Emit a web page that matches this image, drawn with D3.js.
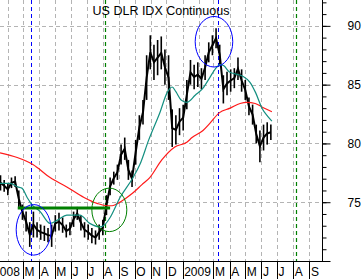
<!DOCTYPE html>
<html>
<head>
<meta charset="utf-8">
<script src="https://cdn.jsdelivr.net/npm/d3@7"></script>
<style>
body { margin: 0; background: #fff; }
svg { display: block; font-family: "Liberation Sans", Arial, sans-serif; }
</style>
</head>
<body>
<div id="chart_area"></div>
<script>
// weekly bars of the dollar index, first week ending 2008-01-18
var firstWeek = "2008-01-18";
var highs = [77.3,76.9,76.6,77.1,77.2,76.0,74.8,74.2,73.3,74.2,
             73.3,73.1,73.0,72.8,73.1,73.9,74.1,73.7,73.1,73.3,
             74.2,74.6,73.9,73.3,73.1,72.8,72.6,73.1,73.5,75.6,
             77.1,77.6,78.2,79.9,80.5,78.6,77.7,80.3,82.4,83.7,
             87.5,89.2,88.4,88.8,89.1,88.0,87.5,82.9,82.4,83.0,
             83.3,85.4,87.1,86.7,86.9,86.4,87.5,88.6,89.2,89.8,
             88.4,85.8,86.1,86.3,86.4,87.3,86.3,85.4,83.9,83.3,
             81.6,81.1,81.6,81.8,81.6];
var lows = [76.0,75.9,75.6,76.2,76.3,74.6,73.5,72.5,71.2,72.0,
            72.0,71.8,71.7,71.6,71.2,72.5,72.6,72.4,72.0,72.2,
            72.9,73.5,72.6,72.0,71.8,71.5,71.4,71.8,72.2,73.9,
            75.6,76.5,76.9,78.2,78.6,76.9,76.3,78.2,80.3,81.6,
            83.7,86.3,85.4,85.8,86.3,85.0,83.7,79.7,79.9,80.7,
            81.1,82.9,85.0,84.6,84.8,84.6,85.4,86.9,87.5,88.1,
            86.7,83.4,84.1,84.4,84.7,85.4,84.4,83.7,82.4,81.6,
            80.0,78.4,79.4,79.9,80.3];

// moving averages
var ma50Dates = ["2008-01-17","2008-02-05","2008-02-20","2008-02-28","2008-03-09","2008-03-18","2008-04-03","2008-04-22","2008-05-07","2008-05-24",
                 "2008-06-18","2008-07-07","2008-07-27","2008-08-05","2008-08-15","2008-09-03","2008-09-28","2008-10-11","2008-10-28","2008-11-19",
                 "2008-12-02","2008-12-12","2008-12-19","2008-12-29","2009-01-09","2009-01-25","2009-02-09","2009-02-22","2009-03-04","2009-03-14",
                 "2009-03-21","2009-03-31","2009-04-13","2009-04-27","2009-05-10","2009-05-21","2009-06-02","2009-06-13","2009-06-21"];
var ma50Values = [76.6,76.6,76.3,76.2,75.4,74.8,74.2,73.2,73.5,73.9,
                  73.9,73.2,72.9,73.1,73.7,75.4,77.1,78.2,80.3,82.7,
                  84.3,84.8,84.4,83.7,83.5,84.1,84.7,85.6,86.3,86.7,
                  86.6,86.1,85.9,85.7,85.2,84.3,83.0,82.3,81.9];
var ma200Dates = ["2008-01-17","2008-02-19","2008-03-20","2008-04-22","2008-05-24","2008-06-26","2008-07-21","2008-08-09","2008-08-19","2008-08-30",
                  "2008-09-13","2008-09-28","2008-10-15","2008-10-30","2008-11-22","2008-12-17","2009-01-09","2009-01-19","2009-02-09","2009-02-22",
                  "2009-03-12","2009-04-02","2009-04-21","2009-05-04","2009-05-20","2009-06-02","2009-06-21"];
var ma200Values = [79.2,78.8,78.2,77.1,76.3,75.4,74.9,74.7,74.7,74.9,
                   75.3,75.8,76.5,77.1,78.6,79.7,80.1,80.5,81.1,81.7,
                   82.6,83.0,83.4,83.5,83.4,83.1,82.7];

// annotations
var blueLines = ["2008-03-17", "2009-03-09"];
var greenLines = ["2008-08-05", "2009-08-07"];
var supportLine = {from: "2008-02-20", to: "2008-08-15", value: 74.5};
var ovals = [
    {from: "2008-02-17", to: "2008-04-24", lo: 70.5, hi: 74.8, color: "#0000ff"},
    {from: "2008-07-11", to: "2008-09-16", lo: 72.5, hi: 76.2, color: "#008000"},
    {from: "2009-01-25", to: "2009-04-07", lo: 86.5, hi: 90.8, color: "#0000ff"}
];

var yMajor = [70, 75, 80, 85, 90];
var title = "US DLR IDX Continuous";
var monthLetters = ["J","F","M","A","M","J","J","A","S","O","N","D"];

var parse = d3.timeParse("%Y-%m-%d");
var W = 364, H = 279;
var plotW = 322, plotH = 261;

var svg = d3.select("#chart_area").append("svg").attr("width", W).attr("height", H);

var x = d3.scaleTime().domain([parse("2008-01-17"), parse("2009-09-25")]).range([0, plotW]);
var y = d3.scaleLinear().domain([70, 92.2]).range([plotH, 0]);

var months = d3.timeMonth.range(parse("2008-02-01"), parse("2009-09-26"));

// grid
svg.append("g").selectAll("line").data(months).join("line")
    .attr("x1", d=>Math.round(x(d)) + 0.5).attr("x2", d=>Math.round(x(d)) + 0.5)
    .attr("y1", 0).attr("y2", plotH)
    .attr("stroke", "#b4b4b4").attr("stroke-dasharray", "4,3");
svg.append("g").selectAll("line").data(yMajor.slice(1)).join("line")
    .attr("x1", 0).attr("x2", plotW)
    .attr("y1", d=>Math.round(y(d)) + 0.5).attr("y2", d=>Math.round(y(d)) + 0.5)
    .attr("stroke", "#b4b4b4").attr("stroke-dasharray", "4,3");

// vertical markers
svg.append("g").selectAll("line").data(blueLines.map(parse)).join("line")
    .attr("x1", d=>Math.round(x(d)) + 0.5).attr("x2", d=>Math.round(x(d)) + 0.5).attr("y1", 0).attr("y2", plotH)
    .attr("stroke", "#0000ff").attr("stroke-width", 1).attr("stroke-dasharray", "4,3");
svg.append("g").selectAll("line").data(greenLines.map(parse)).join("line")
    .attr("x1", d=>Math.round(x(d)) + 0.5).attr("x2", d=>Math.round(x(d)) + 0.5).attr("y1", 0).attr("y2", plotH)
    .attr("stroke", "#008000").attr("stroke-width", 1.2).attr("stroke-dasharray", "4,3");

// price: weekly high-low bars joined by a mid line
var bars = highs.map((h, i)=>({date: d3.timeDay.offset(parse(firstWeek), 7 * i), high: h, low: lows[i]}));
var mid = d3.line().x(d=>x(d.date)).y(d=>y((d.high + d.low) / 2));
svg.append("path").datum(bars).attr("d", mid)
    .attr("fill", "none").attr("stroke", "#000").attr("stroke-width", 2);
svg.append("g").selectAll("line").data(bars).join("line")
    .attr("x1", d=>x(d.date)).attr("x2", d=>x(d.date))
    .attr("y1", d=>y(d.high)).attr("y2", d=>y(d.low))
    .attr("stroke", "#000").attr("stroke-width", 1.6);

// moving averages
var line = d3.line().x(d=>x(d[0])).y(d=>y(d[1])).curve(d3.curveMonotoneX);
svg.append("path").datum(ma200Dates.map((d, i)=>[parse(d), ma200Values[i]])).attr("d", line)
    .attr("fill", "none").attr("stroke", "#ff1a1a").attr("stroke-width", 1.2);
svg.append("path").datum(ma50Dates.map((d, i)=>[parse(d), ma50Values[i]])).attr("d", line)
    .attr("fill", "none").attr("stroke", "#138f80").attr("stroke-width", 1.2);

// support line
svg.append("line")
    .attr("x1", x(parse(supportLine.from))).attr("x2", x(parse(supportLine.to)))
    .attr("y1", y(supportLine.value)).attr("y2", y(supportLine.value))
    .attr("stroke", "#008000").attr("stroke-width", 3);

// ovals
svg.append("g").selectAll("ellipse").data(ovals).join("ellipse")
    .attr("cx", d=>(x(parse(d.from)) + x(parse(d.to))) / 2)
    .attr("cy", d=>(y(d.lo) + y(d.hi)) / 2)
    .attr("rx", d=>(x(parse(d.to)) - x(parse(d.from))) / 2)
    .attr("ry", d=>(y(d.lo) - y(d.hi)) / 2)
    .attr("fill", "none").attr("stroke", d=>d.color).attr("stroke-width", 1);

// right axis: minor then major ticks
svg.append("g").attr("transform", `translate(${plotW + 0.5},0)`)
    .call(d3.axisRight(y).tickValues(d3.range(70, 93)).tickSize(4).tickFormat(""))
    .call(g=>g.select(".domain").remove());
var yAxis = svg.append("g").attr("transform", `translate(${plotW + 0.5},0)`)
    .call(d3.axisRight(y).tickValues(yMajor).tickSize(8).tickPadding(17).tickSizeOuter(0));
yAxis.selectAll("text").attr("font-size", 12).attr("font-family", "Liberation Sans, Arial, sans-serif").attr("fill", "#000");
yAxis.select(".domain").attr("d", `M0,0V${plotH}`);
yAxis.selectAll(".tick").filter(d=>d == 70).select("text").remove();

// bottom label row
svg.append("line").attr("x1", 0).attr("x2", plotW + 1).attr("y1", plotH + 0.5).attr("y2", plotH + 0.5).attr("stroke", "#000");
svg.append("g").selectAll("line").data(months.filter(d=>d.getMonth() != 1)).join("line")
    .attr("x1", d=>Math.round(x(d)) + 0.5).attr("x2", d=>Math.round(x(d)) + 0.5)
    .attr("y1", plotH).attr("y2", H)
    .attr("stroke", "#000");
var labelMonths = [parse("2008-01-01")].concat(months.filter(d=>d.getMonth() != 1));
svg.append("g").selectAll("text").data(labelMonths).join("text")
    .attr("x", d=>x(d) + 1.5).attr("y", 276)
    .attr("font-size", 12).attr("fill", "#000")
    .text(d=>d.getMonth() == 0 ? d.getFullYear() : monthLetters[d.getMonth()]);

// title
svg.append("text").attr("x", 161).attr("y", 15).attr("text-anchor", "middle")
    .attr("font-size", 12.5).attr("fill", "#000").text(title);
</script>
</body>
</html>
